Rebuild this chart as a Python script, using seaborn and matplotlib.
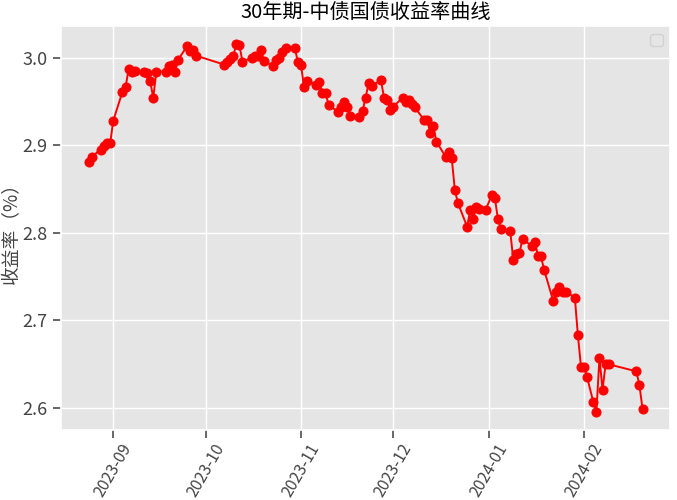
import pandas as pd
import numpy as np
import matplotlib
matplotlib.use('Agg')
import matplotlib.pyplot as plt
import matplotlib.dates as mdates
import seaborn as sns

# 30年期国债收益率
dates = [
    '2023-08-24', '2023-08-25', '2023-08-28', '2023-08-29', '2023-08-30', '2023-08-31', '2023-09-01',
    '2023-09-04', '2023-09-05', '2023-09-06', '2023-09-07', '2023-09-08',
    '2023-09-11', '2023-09-12', '2023-09-13', '2023-09-14', '2023-09-15',
    '2023-09-18', '2023-09-19', '2023-09-20', '2023-09-21', '2023-09-22',
    '2023-09-25', '2023-09-26', '2023-09-27', '2023-09-28',
    '2023-10-07', '2023-10-08', '2023-10-09', '2023-10-10', '2023-10-11', '2023-10-12', '2023-10-13',
    '2023-10-16', '2023-10-17', '2023-10-18', '2023-10-19', '2023-10-20',
    '2023-10-23', '2023-10-24', '2023-10-25', '2023-10-26', '2023-10-27',
    '2023-10-30', '2023-10-31', '2023-11-01', '2023-11-02', '2023-11-03',
    '2023-11-06', '2023-11-07', '2023-11-08', '2023-11-09', '2023-11-10',
    '2023-11-13', '2023-11-14', '2023-11-15', '2023-11-16', '2023-11-17',
    '2023-11-20', '2023-11-21', '2023-11-22', '2023-11-23', '2023-11-24',
    '2023-11-27', '2023-11-28', '2023-11-29', '2023-11-30', '2023-12-01',
    '2023-12-04', '2023-12-05', '2023-12-06', '2023-12-07', '2023-12-08',
    '2023-12-11', '2023-12-12', '2023-12-13', '2023-12-14', '2023-12-15',
    '2023-12-18', '2023-12-19', '2023-12-20', '2023-12-21', '2023-12-22',
    '2023-12-25', '2023-12-26', '2023-12-27', '2023-12-28', '2023-12-29', '2023-12-31',
    '2024-01-02', '2024-01-03', '2024-01-04', '2024-01-05',
    '2024-01-08', '2024-01-09', '2024-01-10', '2024-01-11', '2024-01-12',
    '2024-01-15', '2024-01-16', '2024-01-17', '2024-01-18', '2024-01-19',
    '2024-01-22', '2024-01-23', '2024-01-24', '2024-01-25', '2024-01-26',
    '2024-01-29', '2024-01-30', '2024-01-31', '2024-02-01', '2024-02-02',
    '2024-02-04', '2024-02-05', '2024-02-06', '2024-02-07', '2024-02-08', '2024-02-09',
    '2024-02-18', '2024-02-19', '2024-02-20',
]

yields = [
    2.881, 2.887, 2.895, 2.899, 2.902, 2.902, 2.928,
    2.961, 2.966, 2.987, 2.984, 2.985,
    2.983, 2.982, 2.973, 2.954, 2.984,
    2.984, 2.990, 2.992, 2.984, 2.997,
    3.013, 3.007, 3.008, 3.002,
    2.992, 2.995, 2.998, 3.002, 3.015, 3.014, 2.995,
    3.000, 3.002, 3.002, 3.008, 2.996,
    2.990, 2.997, 3.000, 3.006, 3.011,
    3.011, 2.995, 2.992, 2.966, 2.973,
    2.969, 2.972, 2.959, 2.959, 2.946,
    2.938, 2.944, 2.949, 2.944, 2.933,
    2.932, 2.939, 2.954, 2.971, 2.968,
    2.974, 2.954, 2.952, 2.940, 2.944,
    2.954, 2.949, 2.952, 2.947, 2.943,
    2.929, 2.929, 2.914, 2.922, 2.904,
    2.887, 2.892, 2.885, 2.849, 2.834,
    2.807, 2.826, 2.816, 2.829, 2.827, 2.826,
    2.843, 2.840, 2.816, 2.804,
    2.802, 2.769, 2.776, 2.777, 2.793,
    2.785, 2.790, 2.774, 2.773, 2.758,
    2.722, 2.732, 2.738, 2.732, 2.733,
    2.726, 2.683, 2.647, 2.647, 2.635,
    2.607, 2.596, 2.657, 2.621, 2.650, 2.650,
    2.642, 2.626, 2.599,
]

df = pd.DataFrame({'日期': pd.to_datetime(dates), '收益率': yields})

sns.set_theme(style='darkgrid', rc={
    'axes.facecolor': '#E5E5E5',
    'axes.edgecolor': 'white',
    'grid.color': 'white',
    'grid.linewidth': 1.0,
    'xtick.bottom': True,
    'ytick.left': True,
    'xtick.color': '#555555',
    'ytick.color': '#555555',
    'xtick.direction': 'out',
    'ytick.direction': 'out',
})
plt.rcParams['font.family'] = ['Noto Sans CJK SC', 'DejaVu Sans']
plt.rcParams['axes.unicode_minus'] = False

fig, ax = plt.subplots(figsize=(6.77, 5.0), dpi=100)
fig.subplots_adjust(left=0.090, right=0.990, top=0.948, bottom=0.14)

sns.lineplot(data=df, x='日期', y='收益率', ax=ax, color='red', marker='o',
             markersize=6.5, markeredgecolor='red', linewidth=1.4)

ax.xaxis.set_major_locator(mdates.MonthLocator())
ax.xaxis.set_major_formatter(mdates.DateFormatter('%Y-%m'))
ax.set_yticks([2.6, 2.7, 2.8, 2.9, 3.0])
ax.tick_params(axis='x', labelsize=11.5, labelcolor='#444444', pad=2)
for lab in ax.get_xticklabels():
    lab.set_rotation(60)
ax.tick_params(axis='y', labelsize=13, labelcolor='#444444')

ax.set_title('30年期-中债国债收益率曲线', fontsize=14.5, color='black')
ax.set_xlabel('')
ax.set_ylabel('收益率（%）', fontsize=13.5, color='#444444')
ax.yaxis.set_label_coords(-0.063, 0.5)
ax.legend(loc='upper right')

fig.savefig('out.png', dpi=100)
